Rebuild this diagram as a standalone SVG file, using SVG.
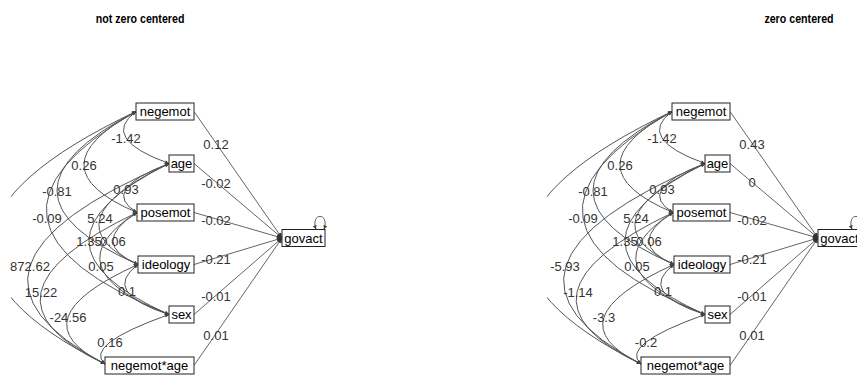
<svg xmlns="http://www.w3.org/2000/svg" width="857" height="377" viewBox="0 0 857 377">
<style>
  .title { font-family: "Liberation Sans", Arial, sans-serif; font-size: 13px; font-weight: bold; fill: #000; text-anchor: middle; }
  .box { fill: #fff; stroke: #222; stroke-width: 1; }
  .nlab { font-family: "Liberation Sans", Arial, sans-serif; font-size: 13px; fill: #000; text-anchor: middle; }
  .elab { font-family: "Liberation Sans", Arial, sans-serif; font-size: 13px; fill: #333; text-anchor: middle; }
  .reg { fill: none; stroke: #666; stroke-width: 1; marker-end: url(#ahReg); }
  .cov { fill: none; stroke: #555; stroke-width: 1; marker-start: url(#ahCov); marker-end: url(#ahCov); }
</style>
<defs>
  <marker id="ahReg" viewBox="0 0 10 10" refX="10" refY="5" markerWidth="6" markerHeight="5" markerUnits="userSpaceOnUse" orient="auto">
    <path d="M0,0 L10,5 L0,10 z" fill="#333"/>
  </marker>
  <marker id="ahCov" viewBox="0 0 10 10" refX="10" refY="5" markerWidth="5" markerHeight="4" markerUnits="userSpaceOnUse" orient="auto-start-reverse">
    <path d="M0,0 L10,5 L0,10 z" fill="#444"/>
  </marker>
  <clipPath id="plotclip" clipPathUnits="userSpaceOnUse">
    <rect x="11" y="0" width="400" height="377"/>
  </clipPath>
</defs>
<rect x="0" y="0" width="857" height="377" fill="#fff"/>

<text class="title" transform="translate(140,23) scale(0.82,1)">not zero centered</text>
<text class="title" transform="translate(799,23) scale(0.82,1)">zero centered</text>

<!-- LEFT PANEL -->
<g id="panel-left">
  <g id="L-connectors">
    <g clip-path="url(#plotclip)">
      <path class="cov" d="M136,111.5 Q99.5,138.5 169,163.5"/>
      <path class="cov" d="M136,111.5 Q31.5,168 137,212.5"/>
      <path class="cov" d="M136,111.5 Q-23,194 138,264.5"/>
      <path class="cov" d="M136,111.5 Q-58.5,223 169,314.5"/>
      <path class="cov" d="M136,111.5 Q-139.5,242 105,364"/>
      <path class="cov" d="M169,163.5 Q99,190 137,212.5"/>
      <path class="cov" d="M169,163.5 Q46.5,222 138,264.5"/>
      <path class="cov" d="M169,163.5 Q9,243 169,314.5"/>
      <path class="cov" d="M169,163.5 Q-77,268 105,364"/>
      <path class="cov" d="M137,212.5 Q88.5,243.5 138,264.5"/>
      <path class="cov" d="M137,212.5 Q49,268.5 169,314.5"/>
      <path class="cov" d="M137,212.5 Q-39,296 105,364"/>
      <path class="cov" d="M138,264.5 Q100.5,292.5 169,314.5"/>
      <path class="cov" d="M138,264.5 Q14.5,320 105,364"/>
      <path class="cov" d="M169,314.5 Q83,345 105,364"/>
    </g>
    <path class="reg" d="M194,111.5 L282,238"/>
    <path class="reg" d="M194,163.5 L282,238"/>
    <path class="reg" d="M194,212.5 L282,238"/>
    <path class="reg" d="M194,264.5 L282,238"/>
    <path class="reg" d="M194,314.5 L282,238"/>
    <path class="reg" d="M194,365.5 L282,238"/>
    <path class="cov" d="M316,229.5 C310,212 330,212 324,229.5"/>
    <text class="elab" x="126" y="142.5">-1.42</text>
    <text class="elab" x="84" y="169.5">0.26</text>
    <text class="elab" x="57" y="195.5">-0.81</text>
    <text class="elab" x="47" y="222.5">-0.09</text>
    <text class="elab" x="126" y="193.5">0.93</text>
    <text class="elab" x="100" y="222.5">5.24</text>
    <text class="elab" x="89" y="245.5">1.35</text>
    <text class="elab" x="113" y="245.5">0.06</text>
    <text class="elab" x="30" y="270.5">872.62</text>
    <text class="elab" x="101" y="270.5">0.05</text>
    <text class="elab" x="41" y="296.5">15.22</text>
    <text class="elab" x="127" y="295.5">0.1</text>
    <text class="elab" x="68" y="321.5">-24.56</text>
    <text class="elab" x="110" y="346.5">0.16</text>
    <text class="elab" x="216" y="148.5">0.12</text>
    <text class="elab" x="216" y="187.5">-0.02</text>
    <text class="elab" x="216" y="224.5">-0.02</text>
    <text class="elab" x="216" y="263.5">-0.21</text>
    <text class="elab" x="216" y="300.5">-0.01</text>
    <text class="elab" x="216" y="339.5">0.01</text>
  </g>
  <g id="L-negemot"><rect class="box" x="136" y="103" width="58" height="17"/><text class="nlab" x="165" y="116">negemot</text></g>
  <g id="L-age"><rect class="box" x="169" y="155" width="25" height="17"/><text class="nlab" x="181.5" y="168">age</text></g>
  <g id="L-posemot"><rect class="box" x="137" y="204" width="57" height="17"/><text class="nlab" x="165.5" y="217">posemot</text></g>
  <g id="L-ideology"><rect class="box" x="138" y="256" width="56" height="17"/><text class="nlab" x="166" y="269">ideology</text></g>
  <g id="L-sex"><rect class="box" x="169" y="306" width="25" height="17"/><text class="nlab" x="181.5" y="319">sex</text></g>
  <g id="L-negemotage"><rect class="box" x="105" y="357" width="89" height="17"/><text class="nlab" x="149.5" y="370">negemot*age</text></g>
  <g id="L-govact"><rect class="box" x="282" y="229.5" width="43" height="17"/><text class="nlab" x="303.5" y="242.5">govact</text></g>
</g>

<!-- RIGHT PANEL -->
<g id="panel-right" transform="translate(536,0)">
  <g id="R-connectors">
    <g clip-path="url(#plotclip)">
      <path class="cov" d="M136,111.5 Q99.5,138.5 169,163.5"/>
      <path class="cov" d="M136,111.5 Q31.5,168 137,212.5"/>
      <path class="cov" d="M136,111.5 Q-23,194 138,264.5"/>
      <path class="cov" d="M136,111.5 Q-58.5,223 169,314.5"/>
      <path class="cov" d="M136,111.5 Q-139.5,242 105,364"/>
      <path class="cov" d="M169,163.5 Q99,190 137,212.5"/>
      <path class="cov" d="M169,163.5 Q46.5,222 138,264.5"/>
      <path class="cov" d="M169,163.5 Q9,243 169,314.5"/>
      <path class="cov" d="M169,163.5 Q-77,268 105,364"/>
      <path class="cov" d="M137,212.5 Q88.5,243.5 138,264.5"/>
      <path class="cov" d="M137,212.5 Q49,268.5 169,314.5"/>
      <path class="cov" d="M137,212.5 Q-39,296 105,364"/>
      <path class="cov" d="M138,264.5 Q100.5,292.5 169,314.5"/>
      <path class="cov" d="M138,264.5 Q14.5,320 105,364"/>
      <path class="cov" d="M169,314.5 Q83,345 105,364"/>
    </g>
    <path class="reg" d="M194,111.5 L282,238"/>
    <path class="reg" d="M194,163.5 L282,238"/>
    <path class="reg" d="M194,212.5 L282,238"/>
    <path class="reg" d="M194,264.5 L282,238"/>
    <path class="reg" d="M194,314.5 L282,238"/>
    <path class="reg" d="M194,365.5 L282,238"/>
    <path class="cov" d="M316,229.5 C310,212 330,212 324,229.5"/>
    <text class="elab" x="126" y="142.5">-1.42</text>
    <text class="elab" x="84" y="169.5">0.26</text>
    <text class="elab" x="57" y="195.5">-0.81</text>
    <text class="elab" x="47" y="222.5">-0.09</text>
    <text class="elab" x="126" y="193.5">0.93</text>
    <text class="elab" x="100" y="222.5">5.24</text>
    <text class="elab" x="89" y="245.5">1.35</text>
    <text class="elab" x="113" y="245.5">0.06</text>
    <text class="elab" x="29" y="270.5">-5.93</text>
    <text class="elab" x="101" y="270.5">0.05</text>
    <text class="elab" x="42" y="296.5">-1.14</text>
    <text class="elab" x="127" y="295.5">0.1</text>
    <text class="elab" x="68" y="321.5">-3.3</text>
    <text class="elab" x="110" y="346.5">-0.2</text>
    <text class="elab" x="216" y="148.5">0.43</text>
    <text class="elab" x="216" y="186.5">0</text>
    <text class="elab" x="216" y="224.5">-0.02</text>
    <text class="elab" x="216" y="263.5">-0.21</text>
    <text class="elab" x="216" y="300.5">-0.01</text>
    <text class="elab" x="216" y="339.5">0.01</text>
  </g>
  <g id="R-negemot"><rect class="box" x="136" y="103" width="58" height="17"/><text class="nlab" x="165" y="116">negemot</text></g>
  <g id="R-age"><rect class="box" x="169" y="155" width="25" height="17"/><text class="nlab" x="181.5" y="168">age</text></g>
  <g id="R-posemot"><rect class="box" x="137" y="204" width="57" height="17"/><text class="nlab" x="165.5" y="217">posemot</text></g>
  <g id="R-ideology"><rect class="box" x="138" y="256" width="56" height="17"/><text class="nlab" x="166" y="269">ideology</text></g>
  <g id="R-sex"><rect class="box" x="169" y="306" width="25" height="17"/><text class="nlab" x="181.5" y="319">sex</text></g>
  <g id="R-negemotage"><rect class="box" x="105" y="357" width="89" height="17"/><text class="nlab" x="149.5" y="370">negemot*age</text></g>
  <g id="R-govact"><rect class="box" x="282" y="229.5" width="43" height="17"/><text class="nlab" x="303.5" y="242.5">govact</text></g>
</g>
</svg>
